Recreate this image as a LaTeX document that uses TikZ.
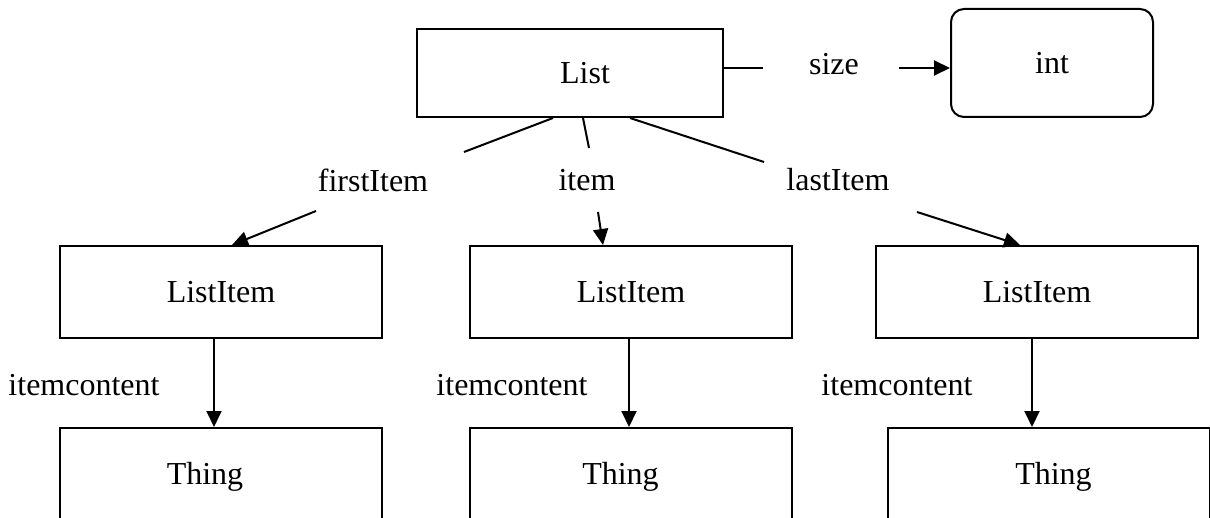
\documentclass[tikz,border=0pt]{standalone}
\usepackage{fontspec}
\setmainfont{Liberation Serif}
\usetikzlibrary{arrows.meta}
\tikzset{
  box/.style={draw, line width=1pt, minimum width=161pt, minimum height=46pt, inner sep=0pt},
  thingbox/.style={box, minimum height=49pt},
  lbl/.style={inner sep=0pt},
  conn/.style={line width=1pt},
  arr/.style={conn, -{Triangle[length=8pt,width=7.5pt]}}
}
\begin{document}
\begin{tikzpicture}[x=0.5pt,y=-0.5pt,font=\fontsize{16}{19}\selectfont]
\clip (0,0) rectangle (1210,518);

\node[box, minimum width=153pt, minimum height=44pt] (list) at (570,73) {\hspace*{15pt}List};
\node[box, rounded corners=6.5pt, minimum width=101pt, minimum height=54pt] (int) at (1052,63) {int};

\node[box] (li1) at (221,292) {ListItem};
\node[box] (li2) at (631,292) {ListItem};
\node[box] (li3) at (1037,292) {ListItem};

\node[thingbox] (th1) at (221,477) {Thing\hspace*{16pt}};
\node[thingbox] (th2) at (630.5,477) {Thing\hspace*{10pt}};
\node[thingbox] (th3) at (1048.5,477) {\hspace*{5pt}Thing};

\node[lbl] (size) at (834,64) {size};
\node[lbl] (first) at (373,180) {firstItem};
\node[lbl] (item) at (587,180) {item};
\node[lbl] (last) at (838,180) {lastItem};
\node[lbl] (ic1) at (84,385) {itemcontent};
\node[lbl] (ic2) at (512,385) {itemcontent};
\node[lbl] (ic3) at (897,385) {itemcontent};

\coordinate (szA) at (763,68);
\coordinate (szB) at (899,68);
\coordinate (fiA) at (464,152);
\coordinate (fiB) at (316,211);
\coordinate (itA) at (589,148);
\coordinate (itB) at (598,212);
\coordinate (laA) at (764,162);
\coordinate (laB) at (917,212);

\draw[conn] (list.east |- szA) -- (szA);
\draw[arr] (szB) -- (szB -| int.west);

\draw[conn] ([xshift=-8.5pt]list.south) -- (fiA);
\draw[arr] (fiB) -- ([xshift=5.5pt]li1.north);
\draw[conn] ([xshift=6.5pt]list.south) -- (itA);
\draw[arr] (itB) -- ([xshift=-14pt]li2.north);
\draw[conn] ([xshift=30pt]list.south) -- (laA);
\draw[arr] (laB) -- ([xshift=-8.5pt]li3.north);

\draw[arr] ([xshift=-3.5pt]li1.south) -- ([xshift=-3.5pt]li1.south |- th1.north);
\draw[arr] ([xshift=-1pt]li2.south) -- ([xshift=-1pt]li2.south |- th2.north);
\draw[arr] ([xshift=-2.5pt]li3.south) -- ([xshift=-2.5pt]li3.south |- th3.north);
\end{tikzpicture}
\end{document}
